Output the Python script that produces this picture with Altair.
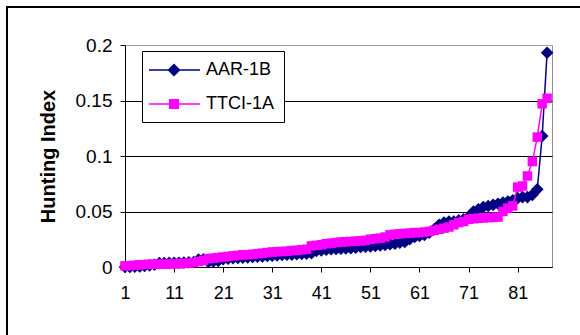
import altair as alt
import pandas as pd

# Hunting index per vehicle, two truck types
series_names = ["AAR-1B", "TTCI-1A"]
series_colors = ["#000080", "#FF00FF"]

aar_1b = [
    0.0, 0.0, 0.0002, 0.0005, 0.001, 0.0015, 0.002, 0.0035, 0.0036, 0.0037,
    0.0038, 0.0038, 0.004, 0.0042, 0.0045, 0.0068, 0.007, 0.0045, 0.005, 0.0055,
    0.007, 0.0075, 0.008, 0.0082, 0.0085, 0.0087, 0.009, 0.0092, 0.0095, 0.01,
    0.0102, 0.0105, 0.0108, 0.011, 0.0112, 0.0115, 0.0118, 0.012, 0.0125, 0.0145,
    0.015, 0.0155, 0.016, 0.0163, 0.0165, 0.0168, 0.017, 0.0175, 0.018, 0.0182,
    0.0185, 0.019, 0.0195, 0.02, 0.0205, 0.021, 0.022, 0.0225, 0.025, 0.027,
    0.028, 0.029, 0.031, 0.034, 0.038, 0.04, 0.041, 0.041, 0.042, 0.043,
    0.045, 0.05, 0.052, 0.054, 0.055, 0.056, 0.057, 0.058, 0.059, 0.06,
    0.062, 0.063, 0.063, 0.065, 0.07, 0.118, 0.193,
]

ttci_1a = [
    0.001, 0.0012, 0.0015, 0.002, 0.0022, 0.0024, 0.0025, 0.0025, 0.0026, 0.0027,
    0.0028, 0.003, 0.0032, 0.0035, 0.004, 0.005, 0.006, 0.0075, 0.008, 0.0085,
    0.009, 0.0095, 0.01, 0.0105, 0.011, 0.011, 0.0115, 0.012, 0.0125, 0.013,
    0.0135, 0.0138, 0.014, 0.0142, 0.0148, 0.015, 0.0155, 0.016, 0.019, 0.0195,
    0.02, 0.021, 0.0215, 0.022, 0.0225, 0.0228, 0.023, 0.0233, 0.0235, 0.024,
    0.025, 0.0255, 0.026, 0.027, 0.029, 0.0295, 0.03, 0.0302, 0.0305, 0.031,
    0.031, 0.0315, 0.032, 0.033, 0.034, 0.035, 0.036, 0.038, 0.04, 0.041,
    0.043, 0.0435, 0.044, 0.0443, 0.0445, 0.0447, 0.045, 0.05, 0.053, 0.055,
    0.072, 0.073, 0.082, 0.095, 0.117, 0.147, 0.152,
]

x_ticks = [1, 11, 21, 31, 41, 51, 61, 71, 81]
y_ticks = [0, 0.05, 0.1, 0.15, 0.2]

rows = []
for name, vals in zip(series_names, [aar_1b, ttci_1a]):
    for i, v in enumerate(vals, start=1):
        rows.append({"n": i, "series": name, "value": v})
df = pd.DataFrame(rows)

FONT = "Liberation Sans"

# legend symbols: a thin bar (the line) with the series marker on it;
# unit = 10 px, symbol centre sits 10 px right of the entry's left edge
line_part = "M-1.2,-0.075L3.9,-0.075L3.9,0.075L-1.2,0.075Z"
diamond_path = line_part + " M1.3,-0.65L1.95,0L1.3,0.65L0.65,0Z"
square_path = line_part + " M0.8,-0.5L1.8,-0.5L1.8,0.5L0.8,0.5Z"

legend = alt.Legend(
    title=None,
    orient="none",
    legendX=17,
    legendY=6,
    direction="vertical",
    fillColor="white",
    strokeColor="black",
    padding=9,
    labelFont=FONT,
    labelFontSize=18,
    labelColor="black",
    labelOffset=35,
    rowPadding=15,
    symbolSize=400,
    symbolStrokeWidth=0,
    symbolOpacity=1,
)

x_enc = alt.X(
    "n:Q",
    scale=alt.Scale(domain=[1, 88], nice=False, zero=False),
    axis=alt.Axis(
        values=x_ticks, format="d", title=None, grid=False,
        domainColor="black", tickColor="black", tickSize=5,
        labelFont=FONT, labelFontSize=18, labelColor="black", labelPadding=12,
        labelFlush=False,
    ),
)
y_enc = alt.Y(
    "value:Q",
    scale=alt.Scale(domain=[0, 0.2], nice=False),
    axis=alt.Axis(
        values=y_ticks, format="~g", title="Hunting Index",
        titleFont=FONT, titleFontSize=20, titleFontWeight="bold", titleColor="black",
        titleAngle=270, titleX=-77, titleY=111, titleAlign="center", titleBaseline="middle",
        grid=True,
        gridColor={"condition": {"test": "datum.value >= 0.2", "value": "#a0a0a0"}, "value": "#000000"},
        gridWidth=1,
        domainColor="black", tickColor="black", tickSize=5,
        labelFont=FONT, labelFontSize=19, labelColor="black", labelPadding=8,
    ),
)
color_scale = alt.Scale(domain=series_names, range=series_colors)
color_enc = alt.Color("series:N", scale=color_scale, legend=legend)

base = alt.Chart(df)

# outer frame around the whole figure
frame = alt.Chart(pd.DataFrame({"k": [0]})).mark_rect(
    fillOpacity=0, stroke="black", strokeWidth=2
).encode(x=alt.value(-118), x2=alt.value(480), y=alt.value(-38), y2=alt.value(320))

layers = [frame]
for name, shape, size in [("AAR-1B", "diamond", 160), ("TTCI-1A", "square", 90)]:
    sub = base.transform_filter(alt.datum.series == name)
    layers.append(sub.mark_line(strokeWidth=1.5).encode(x=x_enc, y=y_enc, color=color_enc))
    layers.append(
        sub.mark_point(shape=shape, filled=True, size=size, opacity=1).encode(
            x=x_enc, y=y_enc, color=color_enc
        )
    )

# legend carrier: no rows drawn, the legend comes from the fixed scale domains
legend_layer = base.transform_filter("false").mark_point(
    filled=True, size=400, opacity=1
).encode(
    x=x_enc,
    y=y_enc,
    color=color_enc,
    shape=alt.Shape(
        "series:N",
        scale=alt.Scale(domain=series_names, range=[diamond_path, square_path]),
        legend=legend,
    ),
)
layers.append(legend_layer)

chart = (
    alt.layer(*layers)
    .properties(
        width=427,
        height=222,
        autosize=alt.AutoSizeParams(type="none"),
        padding={"left": 125, "top": 45, "right": 28, "bottom": 68},
        background="white",
    )
    .configure_view(stroke="#909090", strokeWidth=1)
)

chart.save("out.html", embed_options={"renderer": "svg", "actions": False})
